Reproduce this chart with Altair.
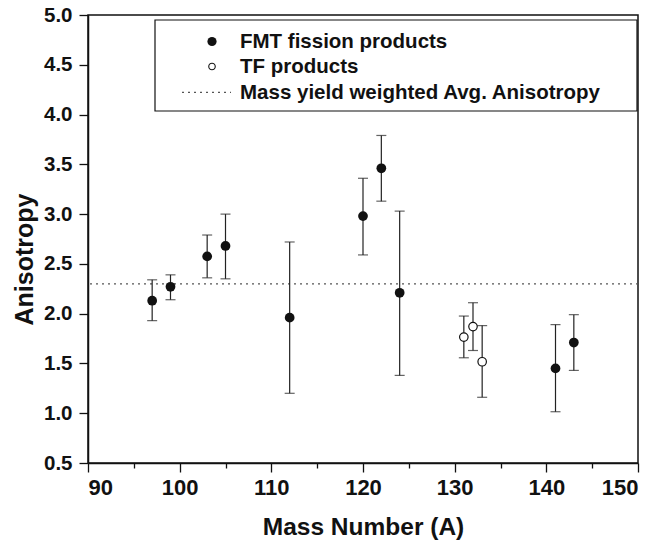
import altair as alt
import pandas as pd

# FMT fission products: mass number, anisotropy, error-bar low/high
fmt_A = [97, 99, 103, 105, 112, 120, 122, 124, 141, 143]
fmt_val = [2.13, 2.27, 2.575, 2.68, 1.96, 2.98, 3.46, 2.21, 1.45, 1.71]
fmt_lo = [1.93, 2.14, 2.36, 2.35, 1.20, 2.59, 3.13, 1.38, 1.015, 1.43]
fmt_hi = [2.34, 2.39, 2.79, 3.00, 2.72, 3.36, 3.79, 3.03, 1.89, 1.99]

# TF products
tf_A = [131, 132, 133]
tf_val = [1.765, 1.87, 1.517]
tf_lo = [1.557, 1.63, 1.16]
tf_hi = [1.976, 2.11, 1.88]

avg_aniso = 2.30

x_ticks = [90, 95, 100, 105, 110, 115, 120, 125, 130, 135, 140, 145, 150]
y_ticks = [0.5, 0.75, 1.0, 1.25, 1.5, 1.75, 2.0, 2.25, 2.5, 2.75, 3.0, 3.25,
           3.5, 3.75, 4.0, 4.25, 4.5, 4.75, 5.0]

legend_labels = ["FMT fission products", "TF products",
                 "Mass yield weighted Avg. Anisotropy"]

df = pd.DataFrame({
    "A": fmt_A + tf_A,
    "val": fmt_val + tf_val,
    "lo": fmt_lo + tf_lo,
    "hi": fmt_hi + tf_hi,
    "kind": ["FMT"] * len(fmt_A) + ["TF"] * len(tf_A),
})
one = pd.DataFrame({"k": [0]})
avg_df = pd.DataFrame({"avg": [avg_aniso]})

FONT = "Liberation Sans"
INK = "#111111"

xscale = alt.Scale(domain=[90, 150], nice=False, zero=False)
yscale = alt.Scale(domain=[0.5, 5.0], nice=False, zero=False)

xenc = alt.X("A:Q", scale=xscale, title="Mass Number (A)",
             axis=alt.Axis(values=x_ticks,
                           labelExpr="datum.value % 10 === 0 ? datum.label : ''",
                           tickSize={"condition": {"test": "datum.value % 10 === 0", "value": 9}, "value": 5},
                           format="d", grid=False, labelPadding=5,
                           titleBaseline="alphabetic", titleY=71))
yenc = alt.Y("val:Q", scale=yscale, title="Anisotropy",
             axis=alt.Axis(values=y_ticks,
                           labelExpr="(datum.value * 2) % 1 === 0 ? format(datum.value, '.1f') : ''",
                           tickSize={"condition": {"test": "(datum.value * 2) % 1 === 0", "value": 9}, "value": 5},
                           grid=False, labelPadding=7,
                           titleBaseline="alphabetic", titleX=-56, titleY=244))

base = alt.Chart(df)

avg_line = alt.Chart(avg_df).mark_rule(
    color="#555555", strokeWidth=1.3, strokeDash=[2, 4]
).encode(y=alt.Y("avg:Q", scale=yscale))

err = base.mark_rule(color="#222222", strokeWidth=1.2).encode(
    x=xenc, y=alt.Y("lo:Q", scale=yscale), y2="hi:Q")
cap_lo = base.mark_tick(orient="horizontal", size=10, thickness=1.2, color="#222222").encode(
    x=alt.X("A:Q", scale=xscale), y=alt.Y("lo:Q", scale=yscale))
cap_hi = base.mark_tick(orient="horizontal", size=10, thickness=1.2, color="#222222").encode(
    x=alt.X("A:Q", scale=xscale), y=alt.Y("hi:Q", scale=yscale))

pts_fmt = base.transform_filter("datum.kind === 'FMT'").mark_point(
    shape="circle", filled=True, size=95, color=INK, opacity=1
).encode(x=alt.X("A:Q", scale=xscale), y=yenc)
pts_tf = base.transform_filter("datum.kind === 'TF'").mark_point(
    shape="circle", filled=True, size=72, fill="white", stroke=INK,
    strokeWidth=1.2, opacity=1
).encode(x=alt.X("A:Q", scale=xscale), y=alt.Y("val:Q", scale=yscale))

# legend box
leg_box = alt.Chart(one).mark_rect(fill="white", stroke=INK, strokeWidth=1.2).encode(
    x=alt.value(67), x2=alt.value(549), y=alt.value(5), y2=alt.value(96))
leg_p1 = alt.Chart(one).mark_point(shape="circle", filled=True, size=85, color=INK, opacity=1).encode(
    x=alt.value(124), y=alt.value(26.5))
leg_p2 = alt.Chart(one).mark_point(shape="circle", filled=True, size=42, fill="white",
                                   stroke=INK, strokeWidth=1.1, opacity=1).encode(
    x=alt.value(124), y=alt.value(51.5))
leg_line = alt.Chart(one).mark_rule(color="#555555", strokeWidth=1.2, strokeDash=[2, 4]).encode(
    x=alt.value(94), x2=alt.value(143), y=alt.value(77.3))
leg_texts = [
    alt.Chart(one).mark_text(text=lbl, align="left", baseline="alphabetic", font=FONT,
                             fontWeight="bold", fontSize=20.5, color=INK).encode(
        x=alt.value(152), y=alt.value(yy))
    for lbl, yy in zip(legend_labels, [33.3, 58.3, 84])
]

chart = alt.layer(
    avg_line, err, cap_lo, cap_hi, pts_fmt, pts_tf,
    leg_box, leg_p1, leg_p2, leg_line, *leg_texts
).properties(
    width=550, height=448,
    autosize=alt.AutoSizeParams(type="none"),
    padding={"left": 88, "top": 15, "right": 21, "bottom": 81},
    background="white",
).configure_view(
    stroke=INK, strokeWidth=1.5
).configure_axis(
    domainColor=INK, domainWidth=1.5, tickColor=INK, tickWidth=1.3,
    labelFont=FONT, labelFontWeight="bold", labelColor=INK,
    titleFont=FONT, titleFontWeight="bold", titleColor=INK,
).configure_axisX(
    labelFontSize=22, titleFontSize=24.5
).configure_axisY(
    labelFontSize=20.5, titleFontSize=25
)

chart.save("out.html", embed_options={"renderer": "svg", "actions": False})
